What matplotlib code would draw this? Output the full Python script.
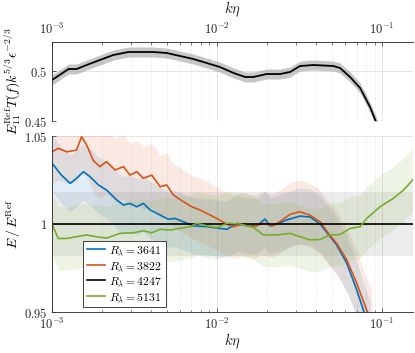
import numpy as np
import matplotlib
matplotlib.use("Agg")
import matplotlib.pyplot as plt
from matplotlib.ticker import FixedLocator, FixedFormatter, LogLocator, NullFormatter

plt.rcParams['mathtext.fontset'] = 'cm'
plt.rcParams['font.family'] = 'serif'
plt.rcParams['font.serif'] = ['cmr10', 'DejaVu Serif']
plt.rcParams['axes.formatter.use_mathtext'] = True

# top panel: compensated reference spectrum
k_top = [1.0e-3, 1.26e-3, 1.41e-3, 1.62e-3, 1.95e-3, 2.35e-3, 2.9e-3, 3.41e-3, 4.11e-3,
         4.95e-3, 5.97e-3, 7.19e-3, 8.65e-3, 1.04e-2, 1.26e-2, 1.48e-2, 1.66e-2, 2.0e-2,
         2.41e-2, 2.77e-2, 3.18e-2, 3.84e-2, 5.07e-2, 5.56e-2, 6.4e-2, 7.36e-2, 8.45e-2,
         9.2e-2, 0.1]
comp_top = [0.491, 0.502, 0.502, 0.506, 0.511, 0.516, 0.519, 0.519, 0.519,
            0.518, 0.515, 0.512, 0.508, 0.504, 0.498, 0.494, 0.494, 0.497,
            0.497, 0.499, 0.505, 0.506, 0.505, 0.503, 0.494, 0.483, 0.464,
            0.449, 0.435]
band_top = 0.005

# bottom panel: ratio to reference
labels = [r'$R_\lambda = 3641$', r'$R_\lambda = 3822$', r'$R_\lambda = 4247$', r'$R_\lambda = 5131$']
colors = ['#0072BD', '#D95319', 'black', '#77AC30']

k_blue = [1.0e-3, 1.14e-3, 1.29e-3, 1.41e-3, 1.55e-3, 1.70e-3, 1.91e-3, 2.14e-3, 2.47e-3,
          2.71e-3, 2.97e-3, 3.26e-3, 3.58e-3, 3.93e-3, 4.52e-3, 5.07e-3, 5.56e-3, 6.25e-3,
          7.19e-3, 8.66e-3, 1.04e-2, 1.15e-2, 1.32e-2, 1.51e-2, 1.74e-2, 1.95e-2, 2.10e-2,
          2.30e-2, 2.64e-2, 3.18e-2, 3.66e-2, 4.21e-2, 4.84e-2, 5.31e-2, 6.11e-2, 7.02e-2,
          7.71e-2, 8.46e-2]
r_blue = [1.0345, 1.0278, 1.0231, 1.026, 1.0297, 1.0269, 1.0222, 1.0193, 1.0136,
          1.0108, 1.0117, 1.0098, 1.0117, 1.008, 1.0051, 1.0027, 1.0032, 1.0013,
          0.9989, 0.9985, 0.9975, 0.997, 1.0004, 0.999, 0.999, 1.0028, 0.9989,
          1.0, 1.0023, 1.0045, 1.004, 1.0, 0.9928, 0.988, 0.9777, 0.9625,
          0.951, 0.94]

k_orange = [1.0e-3, 1.09e-3, 1.23e-3, 1.41e-3, 1.51e-3, 1.62e-3, 1.78e-3, 1.95e-3, 2.14e-3,
            2.41e-3, 2.71e-3, 2.97e-3, 3.26e-3, 3.58e-3, 4.02e-3, 4.52e-3, 4.95e-3, 5.44e-3,
            6.25e-3, 7.02e-3, 7.89e-3, 9.07e-3, 9.95e-3, 1.12e-2, 1.26e-2, 1.44e-2, 1.66e-2,
            1.91e-2, 2.19e-2, 2.52e-2, 2.77e-2, 3.18e-2, 3.66e-2, 4.21e-2, 4.73e-2, 5.31e-2,
            6.11e-2, 7.02e-2, 8.07e-2, 8.66e-2]
r_orange = [1.041, 1.043, 1.041, 1.042, 1.0496, 1.045, 1.036, 1.0326, 1.0354,
            1.0307, 1.0326, 1.0278, 1.0297, 1.026, 1.0278, 1.0212, 1.0222, 1.0165,
            1.0127, 1.0098, 1.008, 1.0051, 1.0032, 1.0004, 0.9985, 1.0, 0.9985,
            1.0004, 0.999, 1.0027, 1.0055, 1.007, 1.005, 1.0013, 0.9947, 0.989,
            0.9796, 0.9663, 0.951, 0.945]

k_black = [1.0e-3, 0.154]
r_black = [1.0, 1.0]

k_green = [1.0e-3, 1.09e-3, 1.23e-3, 1.41e-3, 1.62e-3, 1.85e-3, 2.14e-3, 2.58e-3, 3.11e-3,
           3.58e-3, 4.02e-3, 4.52e-3, 5.19e-3, 5.97e-3, 6.86e-3, 7.53e-3, 8.66e-3, 9.95e-3,
           1.15e-2, 1.38e-2, 1.66e-2, 1.91e-2, 2.30e-2, 2.77e-2, 3.18e-2, 3.66e-2, 4.21e-2,
           4.84e-2, 5.56e-2, 6.40e-2, 7.36e-2, 8.07e-2, 9.72e-2, 0.117, 0.135, 0.153]
r_green = [1.0, 0.9918, 0.9918, 0.9928, 0.9938, 0.9928, 0.992, 0.9947, 0.995,
           0.9962, 0.995, 0.997, 0.9966, 0.9975, 0.9985, 1.0004, 0.999, 0.998,
           1.0004, 1.0, 0.998, 0.9938, 0.9938, 0.9947, 0.9928, 0.991, 0.9912,
           0.9938, 0.994, 0.9975, 0.9985, 1.0032, 1.0098, 1.0146, 1.0193, 1.025]

k_series = [k_blue, k_orange, k_black, k_green]
r_series = [r_blue, r_orange, r_black, r_green]
bands = [0.016, 0.018, 0.018, 0.018]
band_alpha = [0.12, 0.12, 0.15, 0.12]

xlim = (1e-3, 0.154)

fig = plt.figure(figsize=(4.15, 3.53), dpi=100)
ax1 = fig.add_axes([0.1253, 0.6572, 0.870, 0.2238])
ax2 = fig.add_axes([0.1253, 0.1161, 0.870, 0.4986])


def style(ax, top):
    ax.set_xscale('log')
    ax.set_xlim(*xlim)
    for s in ['right', 'bottom' if top else 'top']:
        ax.spines[s].set_visible(False)
    for s in ax.spines.values():
        s.set_color('0.15')
        s.set_linewidth(0.6)
    ax.tick_params(which='both', direction='in', labelsize=9, colors='0.15',
                   top=top, bottom=not top, labeltop=top, labelbottom=not top,
                   right=False)
    ax.tick_params(which='major', length=3, width=0.5)
    ax.tick_params(which='minor', length=1.8, width=0.4)
    ax.xaxis.set_major_locator(LogLocator(base=10, numticks=10))
    ax.xaxis.set_minor_locator(LogLocator(base=10, subs=np.arange(2, 10), numticks=10))
    ax.xaxis.set_minor_formatter(NullFormatter())
    ax.grid(which='major', color='0.85', linewidth=0.5)
    ax.grid(which='minor', axis='x', color='0.85', linewidth=0.5, linestyle=':')
    ax.set_axisbelow(True)
    if top:
        ax.xaxis.set_label_position('top')
    ax.set_xlabel(r'$k\eta$', fontsize=10.5, color='0.15')


# top
style(ax1, True)
ct = np.array(comp_top)
ax1.fill_between(k_top, ct - band_top, ct + band_top, color='0.6', alpha=0.55, linewidth=0)
ax1.plot(k_top, comp_top, color='black', linewidth=1.3)
ax1.set_ylim(0.45, 0.529)
ax1.yaxis.set_major_locator(FixedLocator([0.45, 0.5]))
ax1.yaxis.set_major_formatter(FixedFormatter(['$0.45$', '$0.5$']))
ax1.set_ylabel(r'$E_{11}^{\rm Ref}T(f)k^{5/3}\epsilon^{-2/3}$', fontsize=10)
ax1.yaxis.set_label_coords(-0.08, 0.5)
ax1.xaxis.set_label_coords(0.5, 1.36)

# bottom
style(ax2, False)
for k, r, c, b, a in zip(k_series, r_series, colors, bands, band_alpha):
    rr = np.array(r)
    fc = '0.5' if c == 'black' else c
    ax2.fill_between(k, rr - b, rr + b, color=fc, alpha=a, linewidth=0)
handles = []
for k, r, c, lab in zip(k_series, r_series, colors, labels):
    h, = ax2.plot(k, r, color=c, linewidth=1.2, label=lab)
    handles.append(h)
ax2.set_ylim(0.95, 1.05)
ax2.yaxis.set_major_locator(FixedLocator([0.95, 1.0, 1.05]))
ax2.yaxis.set_major_formatter(FixedFormatter(['$0.95$', '$1$', '$1.05$']))
ax2.set_ylabel(r'$E\,/\,E^{\rm Ref}$', fontsize=10)
ax2.yaxis.set_label_coords(-0.08, 0.5)
ax2.xaxis.set_label_coords(0.5, -0.11)

leg = ax2.legend(handles=handles, loc='lower left', bbox_to_anchor=(0.086, 0.028),
                 fontsize=8.5, frameon=True, fancybox=False, handlelength=1.6,
                 handletextpad=0.3, borderpad=0.3, labelspacing=0.25, borderaxespad=0)
leg.get_frame().set_edgecolor('0.15')
leg.get_frame().set_linewidth(0.6)
leg.get_frame().set_alpha(1)

fig.savefig('out.png', dpi=100)
